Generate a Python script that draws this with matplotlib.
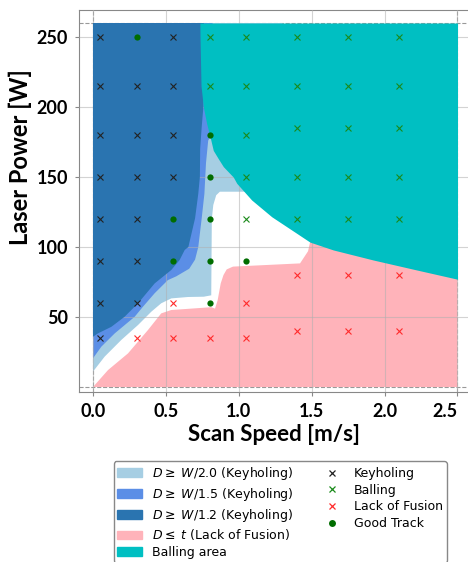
import numpy as np
import matplotlib
matplotlib.use("Agg")
import matplotlib.pyplot as plt
from matplotlib.patches import Patch
from matplotlib.lines import Line2D

# process map: scan speed [m/s] vs laser power [W]

# experiment tracks
keyhole_v = [0.05, 0.05, 0.05, 0.05, 0.05, 0.05, 0.05, 0.05,
             0.3, 0.3, 0.3, 0.3, 0.3, 0.3,
             0.55, 0.55, 0.55, 0.55]
keyhole_p = [250, 215, 180, 150, 120, 90, 60, 35,
             215, 180, 150, 120, 90, 60,
             250, 215, 180, 150]

balling_v = [0.8, 0.8,
             1.05, 1.05, 1.05, 1.05, 1.05,
             1.4, 1.4, 1.4, 1.4, 1.4,
             1.75, 1.75, 1.75, 1.75, 1.75,
             2.1, 2.1, 2.1, 2.1, 2.1]
balling_p = [250, 215,
             250, 215, 180, 150, 120,
             250, 215, 185, 150, 120,
             250, 215, 185, 150, 120,
             250, 215, 185, 150, 120]

lof_v = [0.3, 0.55, 0.55, 0.8, 1.05, 1.05, 1.4, 1.4, 1.75, 1.75, 2.1, 2.1]
lof_p = [35, 60, 35, 35, 60, 35, 80, 40, 80, 40, 80, 40]

good_v = [0.3, 0.55, 0.55, 0.8, 0.8, 0.8, 0.8, 0.8, 1.05]
good_p = [250, 120, 90, 180, 150, 120, 90, 60, 90]

# region outlines from the melt pool model
w20_v = [0, 1.3, 1.3, 0.87, 0.845, 0.825, 0.815, 0.811, 0.76, 0.652, 0.537,
         0.468, 0.40, 0.309, 0.194, 0.08, 0]
w20_p = [260, 260, 139.5, 139.5, 137, 130, 120, 65.5, 64.5, 64.3, 63.3,
         59.8, 53.8, 44.3, 33.6, 21.7, 11]

w15_v = [0, 0.82, 0.82, 0.79, 0.775, 0.77, 0.764, 0.745, 0.722, 0.70, 0.66,
         0.57, 0.514, 0.423, 0.343, 0.286, 0.149, 0.057, 0]
w15_p = [260, 260, 182, 176, 160, 150, 138, 120, 100, 91, 84.5,
         79, 76.4, 67, 57.4, 50.2, 38.3, 28.8, 20.5]

w12_v = [0, 0.76, 0.757, 0.745, 0.735, 0.733, 0.722, 0.70, 0.654, 0.629,
         0.594, 0.537, 0.48, 0.423, 0.366, 0.309, 0.217, 0.126, 0.034, 0]
w12_p = [260, 260, 200, 185, 170, 150, 138, 120.5, 100, 97.9,
         90.7, 83.6, 78.8, 74, 66.9, 59.8, 50.2, 43, 38.3, 35.9]

lof_area_v = [0, 2.5, 2.5, 1.5, 1.49, 1.475, 1.42, 0.96, 0.917, 0.895, 0.876,
              0.855, 0.837, 0.811, 0.537, 0.468, 0.377, 0.24, 0.103, 0]
lof_area_p = [0, 0, 120, 120, 104, 97, 88.3, 86, 84, 80, 74,
              62, 56, 57, 55, 52.6, 40.7, 24, 12.1, 0]

ball_v = [0.733, 0.734, 0.741, 0.757, 0.78, 0.80, 0.825, 0.86, 0.894, 0.962,
          0.986, 1.088, 1.226, 1.397, 1.488, 1.648, 1.923, 2.22, 2.5]
ball_p = [260, 250, 215, 200, 188, 180, 169, 163, 157.4, 150,
          145.5, 133.6, 121.6, 109.8, 103.5, 97.9, 90.7, 83.6, 77]

c_w20 = '#a6cee3'
c_w15 = '#5b8ee6'
c_w12 = '#2a74b0'
c_lof = '#ffb3ba'
c_ball = '#00bfc2'

fig = plt.figure(figsize=(4.68, 5.62), dpi=100)
ax = fig.add_axes([79/468, 1 - 392/562, 391/468, 382/562])

for v in [0, 2.5]:
    ax.axvline(v, color='#999999', ls='--', lw=0.8, zorder=0)
for p in [0, 260]:
    ax.axhline(p, color='#999999', ls='--', lw=0.8, zorder=0)

ax.fill(w20_v, w20_p, color=c_w20, lw=0, zorder=1)
ax.fill(w15_v, w15_p, color=c_w15, lw=0, zorder=2)
ax.fill(w12_v, w12_p, color=c_w12, lw=0, zorder=3)
ax.fill(lof_area_v, lof_area_p, color=c_lof, lw=0, zorder=1)
ax.fill_between(ball_v, ball_p, 260, color=c_ball, lw=0, zorder=4)

ax.grid(True, color='#b0b0b0', lw=0.8, alpha=0.55, zorder=5)
ax.set_axisbelow(False)

ax.plot(keyhole_v, keyhole_p, 'x', color='#222222', ms=4, mew=0.8, zorder=6)
ax.plot(balling_v, balling_p, 'x', color='#1a8a1a', ms=4, mew=0.8, zorder=6)
ax.plot(lof_v, lof_p, 'x', color='#ff2b2b', ms=4, mew=0.8, zorder=6)
ax.plot(good_v, good_p, 'o', color='#006d00', ms=4.5, mew=0, zorder=6)

ax.set_xlim(-0.096, (470 - 93) / 145.8)
ax.set_ylim(-3.57, 269.3)
ax.set_xticks([0, 0.5, 1.0, 1.5, 2.0, 2.5])
ax.set_yticks([50, 100, 150, 200, 250])

bold = dict(family='Lato', weight='bold')
ax.set_xticklabels(['0.0', '0.5', '1.0', '1.5', '2.0', '2.5'], fontsize=13, **bold)
ax.set_yticklabels(['50', '100', '150', '200', '250'], fontsize=13, **bold)
# last label sits at the figure edge, keep it inside
ax.get_xticklabels()[-1].set_horizontalalignment('right')
ax.tick_params(length=3, color='#888888', pad=5)
for s in ax.spines.values():
    s.set_color('#888888')
ax.spines['right'].set_visible(False)

ax.set_xlabel('Scan Speed [m/s]', fontsize=16, **bold)
ax.set_ylabel('Laser Power [W]', fontsize=17, **bold)
ax.xaxis.set_label_coords(0.5, -0.085)
ax.yaxis.set_label_coords(-0.12, 0.615)

handles = [
    Patch(color=c_w20, label=r'$D \geq$ $W$/2.0 (Keyholing)'),
    Patch(color=c_w15, label=r'$D \geq$ $W$/1.5 (Keyholing)'),
    Patch(color=c_w12, label=r'$D \geq$ $W$/1.2 (Keyholing)'),
    Patch(color=c_lof, label=r'$D \leq$ $t$ (Lack of Fusion)'),
    Patch(color=c_ball, label='Balling area'),
    Line2D([], [], ls='', marker='x', color='#222222', ms=5, mew=0.9, label='Keyholing'),
    Line2D([], [], ls='', marker='x', color='#1a8a1a', ms=5, mew=0.9, label='Balling'),
    Line2D([], [], ls='', marker='x', color='#ff2b2b', ms=5, mew=0.9, label='Lack of Fusion'),
    Line2D([], [], ls='', marker='o', color='#006d00', ms=5, mew=0, label='Good Track'),
]
fig.legend(handles=handles, ncol=2, loc='upper center',
           bbox_to_anchor=(0.599, 1 - 455/562), fontsize=9,
           edgecolor='#888888', framealpha=1, columnspacing=2.0,
           labelspacing=0.3, borderpad=0.3)

fig.savefig('out.png', dpi=100)
